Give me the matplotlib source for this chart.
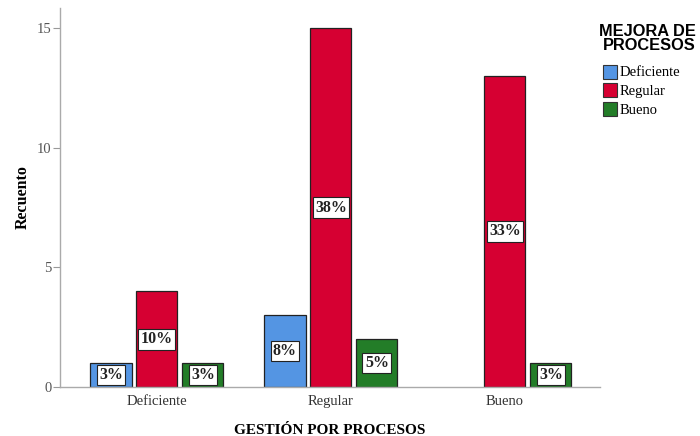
import numpy as np
import matplotlib.pyplot as plt
from matplotlib.patches import Patch

# Data
categorias = ['Deficiente', 'Regular', 'Bueno']
series = ['Deficiente', 'Regular', 'Bueno']
deficiente = [1, 3, 0]
regular = [4, 15, 13]
bueno = [1, 2, 1]
pct_deficiente = ['3%', '8%', '']
pct_regular = ['10%', '38%', '33%']
pct_bueno = ['3%', '5%', '3%']

colores = ['#5495e3', '#d60032', '#237d28']
serif = ['Liberation Serif', 'DejaVu Serif']

fig = plt.figure(figsize=(7, 4.36), dpi=100)
ax = fig.add_axes([0.0857, 0.1124, 0.7714, 0.8693])

x = np.arange(len(categorias))
ancho = 0.236
paso = 0.264
valores = [deficiente, regular, bueno]
etiquetas = [pct_deficiente, pct_regular, pct_bueno]

for i, (vals, labs, col) in enumerate(zip(valores, etiquetas, colores)):
    pos = x + (i - 1) * paso
    # zero counts get no bar at all (as in SPSS)
    alturas = [v if v > 0 else np.nan for v in vals]
    ax.bar(pos, alturas, width=ancho, color=col, edgecolor='#222222', linewidth=0.9, zorder=2)
    for p, v, t in zip(pos, vals, labs):
        if v > 0 and t:
            ax.text(p, v / 2, t, ha='center', va='center', fontsize=11.5, fontweight='bold',
                    family=serif, color='#222222', zorder=3,
                    bbox=dict(boxstyle='square,pad=0.15', facecolor='white',
                              edgecolor='#222222', linewidth=0.8))

ax.set_xlim(-0.557, 2.546)
ax.set_ylim(0, 15.84)
ax.set_yticks([0, 5, 10, 15])
ax.set_xticks(x)
ax.set_xticklabels(categorias, family=serif, fontsize=10.5, color='#333333')
for t in ax.get_yticklabels():
    t.set_family(serif)
    t.set_fontsize(10.5)
    t.set_color('#555555')
ax.tick_params(axis='y', length=5, color='#999999', pad=1)
ax.tick_params(axis='x', length=0, pad=6)

for s in ['top', 'right']:
    ax.spines[s].set_visible(False)
for s in ['left', 'bottom']:
    ax.spines[s].set_color('#aaaaaa')
    ax.spines[s].set_linewidth(1.0)

ax.set_ylabel('Recuento', family=serif, fontsize=11.5, fontweight='bold', va='center')
ax.yaxis.set_label_coords(-0.069, 0.5)
ax.set_xlabel('GESTIÓN POR PROCESOS', family=serif, fontsize=11, fontweight='bold', va='center')
ax.xaxis.set_label_coords(0.5, -0.116)

# Legend
fig.text(0.994, 0.945, 'MEJORA DE\nPROCESOS', ha='right', va='top', fontsize=11.8,
         fontweight='bold', family=['Liberation Sans', 'DejaVu Sans'], linespacing=0.92)
handles = [Patch(facecolor=c, edgecolor='#333333', linewidth=0.8) for c in colores]
leg = fig.legend(handles, series, loc='upper left', bbox_to_anchor=(0.862, 0.852),
                 frameon=False, prop={'family': serif, 'size': 10.5},
                 handlelength=0.95, handleheight=1.1, handletextpad=0.15,
                 labelspacing=0.25, borderaxespad=0, borderpad=0)

fig.savefig('out.png', dpi=100)
